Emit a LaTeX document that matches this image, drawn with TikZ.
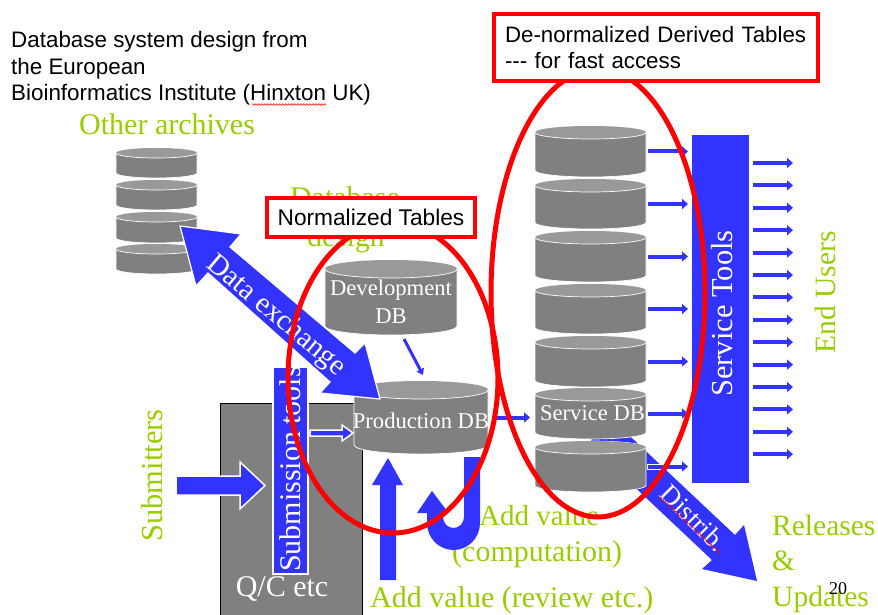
\documentclass[tikz,border=0pt]{standalone}
\usepackage{fontspec}
\setmainfont{Liberation Serif}
\newfontfamily\sansfam{Liberation Sans}
\usetikzlibrary{arrows.meta,decorations.pathmorphing}
\definecolor{dbgray}{HTML}{808080}
\definecolor{dbtop}{HTML}{999999}
\definecolor{ablue}{HTML}{3333FF}
\definecolor{agreen}{HTML}{99CC00}
\definecolor{rred}{HTML}{FF0000}
\newcommand{\fs}[1]{\fontsize{#1}{#1}\selectfont}
% \dbcyl{name}{x1}{x2}{ytop}{ybot}{ry}
\newcommand{\dbcyl}[6]{%
  \pgfmathsetmacro{\dbcx}{(#2+#3)/2}%
  \pgfmathsetmacro{\dbcy}{(#4+#5)/2}%
  \pgfmathsetmacro{\dbrx}{(#3-#2)/2}%
  \pgfmathsetmacro{\dbw}{#3-#2}%
  \pgfmathsetmacro{\dbh}{#5-#4}%
  \pgfmathsetmacro{\dbyt}{#4+#6}%
  \pgfmathsetmacro{\dbyb}{#5-#6}%
  \fill[dbgray,draw=white,line width=0.7pt] (#2,\dbyt)
     -- (#2,\dbyb) arc[start angle=180,end angle=360,x radius=\dbrx pt,y radius=#6 pt]
     -- (#3,\dbyt) arc[start angle=0,end angle=180,x radius=\dbrx pt,y radius=#6 pt] -- cycle;
  \fill[dbtop] (\dbcx,\dbyt) circle[x radius=\dbrx pt,y radius=#6 pt];
  \draw[white,line width=0.7pt] (#2,\dbyt) arc[start angle=180,end angle=360,x radius=\dbrx pt,y radius=#6 pt];
  \node[minimum width=\dbw pt,minimum height=\dbh pt,inner sep=0pt,outer sep=0pt] (#1) at (\dbcx,\dbcy) {};
}
\tikzset{
  green label/.style={text=agreen,inner sep=0pt,font=\fs{#1}},
  green label/.default=30,
  white label/.style={text=white,inner sep=0pt,font=\fs{#1}},
  white label/.default=22.6,
  block arrow/.style={fill=ablue,draw=white,line width=1.5pt,line join=miter},
  small arrow/.style={draw=ablue,line width=4pt,-{Triangle[length=6pt,width=10pt]}},
  halo arrow/.style={draw=white,line width=6pt},
  red box/.style={draw=rred,fill=white,line width=4pt,inner sep=0pt,text=black},
  red ring/.style={draw=rred,line width=5pt},
  squiggle/.style={draw=rred,line width=0.6pt,decorate,decoration={snake,amplitude=0.8pt,segment length=3pt}},
}
\begin{document}
\begin{tikzpicture}[x=1pt,y=-1pt]
\useasboundingbox (0,0) rectangle (878,615);
\fill[white] (0,0) rectangle (878,615);

% header text
\node[anchor=north west,inner sep=0pt,align=left,font=\sansfam\fontsize{22.4}{26.7}\selectfont] (title) at (11,31)
  {Database system design from\\the European\\Bioinformatics Institute (Hinxton UK)};
\draw[squiggle] (252,104.5) -- (326,104.5);

% green labels
\node[green label,anchor=base west] (other) at (79,135) {Other archives};
\node[green label,anchor=base] (dbdesign1) at (345,207) {Database};
\node[green label=29.5,anchor=base] (dbdesign2) at (346,246) {design};
\node[green label=30.5,rotate=90] (submitters) at (152,475.5) {Submitters};
\node[green label=29.5,rotate=90] (endusers) at (825,292.5) {End Users};
\node[green label=29,anchor=base west] (addv1) at (479,525) {Add value};
\node[green label=30,anchor=base west] (addv2) at (452,561) {(computation)};
\node[green label=30,anchor=base west] (addrev) at (370,607) {Add value (review etc.)};
\node[green label=29.5,anchor=base west] (rel1) at (772,535) {Releases};
\node[green label=29.5,anchor=base west] (rel2) at (772,570) {\&};
\node[green label=29.5,anchor=base west] (rel3) at (772,606) {Updates};
\node[anchor=base west,inner sep=0pt,font=\fs{18}] (pagenum) at (829,594) {20};

% Q/C box
\draw[black,fill=dbgray,line width=0.7pt] (220,615) -- (220,403) -- (362,403) -- (362,615);
\node[white label=30] (qc) at (282,589) {Q/C etc};

% submission tools
\node[fill=ablue,draw=white,line width=2pt,minimum width=35pt,minimum height=207pt,inner sep=0pt] (subtools) at (290,470) {};
\node[white label=30,rotate=90] (subtext) at (290,469) {Submission tools};

% submitters arrow
\fill[block arrow] (176,476) -- (240,476) -- (240,462) -- (265,485.5) -- (240,509) -- (240,495) -- (176,495) -- cycle;

% distrib arrow (behind the service stack)
\fill[block arrow,draw=none] (600,408) -- (735,535) -- (744,525) -- (757,581) -- (702,569) -- (712,560) -- (590,445) -- cycle;
\node[white label=27,rotate=-45] (distrib) at (694,518) {Distrib.};
\draw[squiggle] (660,497) -- (720,553);

% other archives stack
\dbcyl{oa1}{116}{197}{148}{178}{5}
\dbcyl{oa2}{116}{197}{180}{210}{5}
\dbcyl{oa3}{116}{197}{212}{243}{5}
\dbcyl{oa4}{116}{197}{244}{274}{5}

% development and production
\dbcyl{dev}{325}{457}{260}{335}{9}
\node[white label,anchor=base] (devtext) at (391,295) {Development};
\node[white label,anchor=base] (devtextb) at (391,323) {DB};
\dbcyl{prod}{354}{488}{381}{454}{9}
\node[white label,anchor=base] (prodtext) at (421,428) {Production DB};

% service stack
\dbcyl{s1}{535}{646}{126}{177}{6.5}
\dbcyl{s2}{535}{646}{179}{229}{6.5}
\dbcyl{s3}{535}{646}{231}{282}{6.5}
\dbcyl{s4}{535}{646}{284}{334}{6.5}
\dbcyl{s5}{535}{646}{336}{387}{6.5}
\dbcyl{s6}{535}{646}{388}{439}{6.5}
\dbcyl{s7}{535}{646}{441}{492}{6.5}
\node[white label,anchor=base] (servtext) at (592.5,420) {Service DB};

% service tools
\node[fill=ablue,minimum width=57pt,minimum height=348pt,inner sep=0pt,outer sep=0pt] (tools) at (720.5,309) {};
\node[white label=30.5,rotate=90] (toolstext) at (722,313.5) {Service Tools};

% arrows from the stack to the tools
\foreach \s in {s1,s2,s3,s4,s5,s6,s7}{
  \draw[halo arrow] ([xshift=1pt]\s.east) -- ([xshift=-6pt]tools.west |- \s.east);
  \draw[small arrow] ([xshift=2pt]\s.east) -- ([xshift=-4pt]tools.west |- \s.east);
}
% arrows from the tools to users
\foreach \i in {0,...,13}{
  \pgfmathsetmacro{\uy}{163+22.4*\i}
  \coordinate (u\i) at (793,\uy);
  \draw[small arrow] (tools.east |- u\i) ++(4,0) -- (u\i);
}

% production to service
\draw[small arrow] ([xshift=4pt]prod.east) -- ([xshift=-5pt]s6.west |- prod.east);
% development to production
\coordinate (devfoot) at (404,339);
\coordinate (prodhead) at (423,375);
\draw[small arrow,line width=3pt,-{Triangle[length=6pt,width=8pt]}] (devfoot) -- (prodhead);

% submission to production
\fill[block arrow] (310,430) -- (342,430) -- (342,425) -- (353,433) -- (342,441) -- (342,436) -- (310,436) -- cycle;

% review arrow
\fill[ablue] (380,580) -- (396,580) -- (396,485) -- (403,485) -- (388,458) -- (372,485) -- (380,485) -- cycle;

% U arrow
\fill[ablue] (464,457) -- (480,457) -- (480,523)
  arc[start angle=0,end angle=-180,x radius=26.5pt,y radius=27pt]
  -- (427,513) -- (417,513) -- (432,491) -- (447,511) -- (443,513) -- (443,517)
  arc[start angle=180,end angle=360,x radius=10.5pt,y radius=11pt]
  -- cycle;

% data exchange double arrow
\fill[block arrow,line width=1.2pt] (180,226) -- (241,234) -- (230,247) -- (355,353) -- (365,343) -- (380,399) -- (320,393) -- (330,382) -- (208,273) -- (196,286) -- cycle;
\node[white label=29,rotate=-40] (dxtext) at (276,316) {Data exchange};

% red ellipses
\draw[red ring] (393,378) circle[x radius=105pt,y radius=155pt];
\draw[red ring] (598,293) circle[x radius=107pt,y radius=224pt];

% red boxes
\node[red box,minimum width=208pt,minimum height=39pt,font=\sansfam\fs{22.7}] (norm) at (371,217.5) {Normalized Tables};
\node[red box,minimum width=324pt,minimum height=67pt,align=left,text width=302pt,font=\sansfam\fontsize{22.3}{26.6}\selectfont] (denorm) at (656,47.5) {De-normalized Derived Tables\\--- for fast access};
\end{tikzpicture}
\end{document}
